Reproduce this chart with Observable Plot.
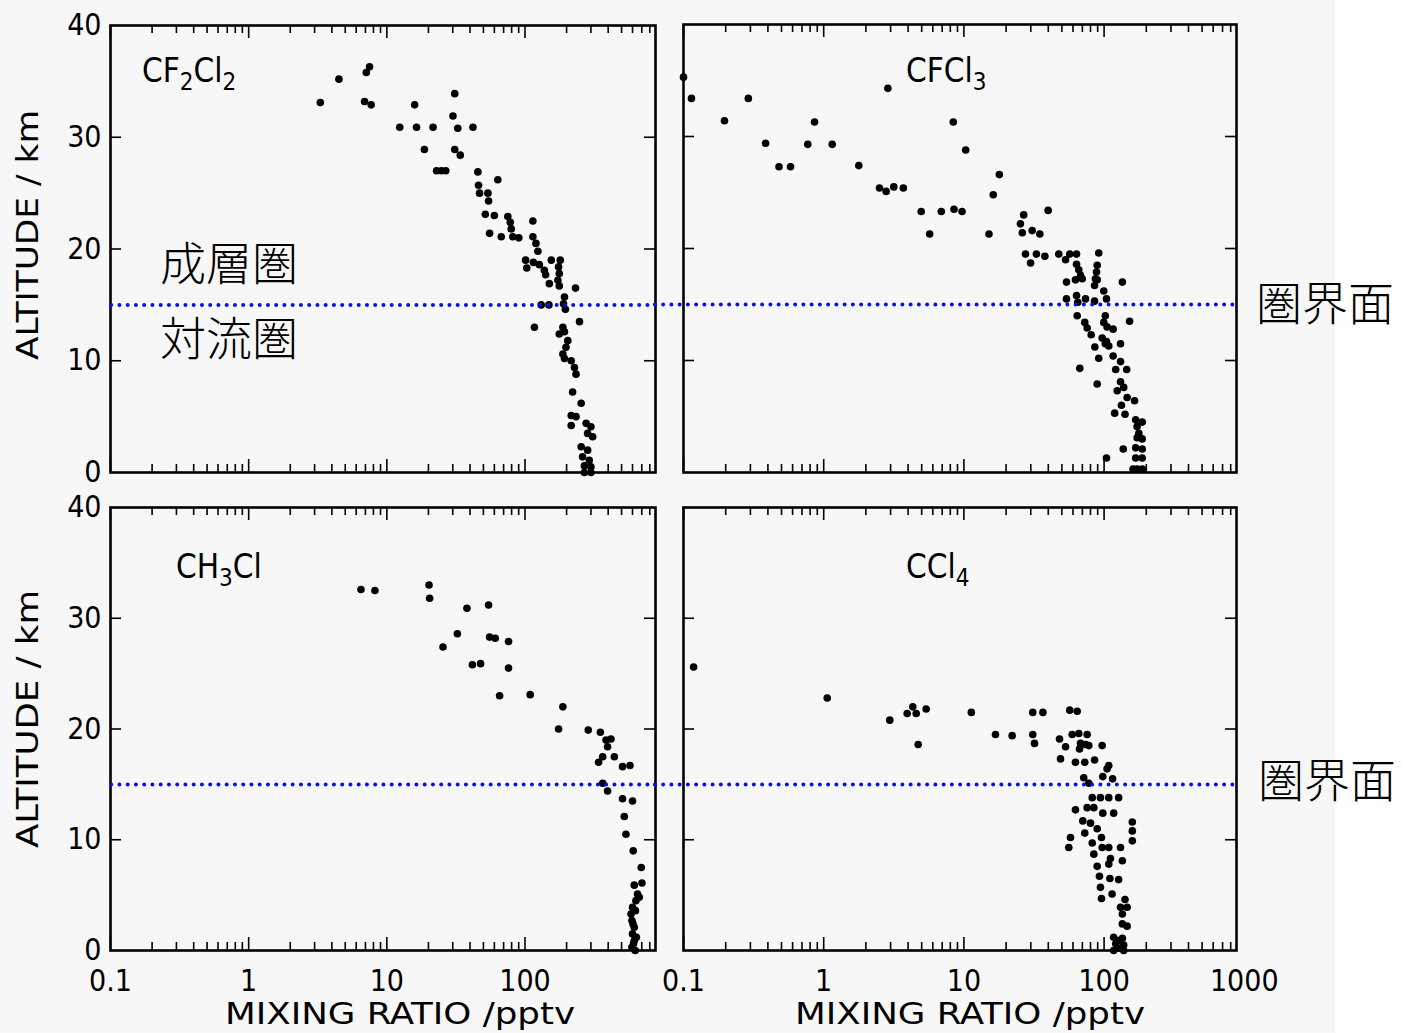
<!DOCTYPE html>
<html><head><meta charset="utf-8">
<script src="https://cdn.jsdelivr.net/npm/d3@7"></script>
<script src="https://cdn.jsdelivr.net/npm/@observablehq/plot@0.6"></script>
<style>
body{margin:0;background:#fff;}
#root{position:relative;width:1402px;height:1033px;overflow:hidden;background:#fff;}
#bg{position:absolute;left:0;top:0;width:1335px;height:1033px;background:#f7f7f7;}
.panel{position:absolute;}
.panel svg{overflow:visible;display:block;}
#overlay{position:absolute;left:0;top:0;}
</style></head><body><div id="root"><div id="bg"></div></div>
<script>
// [mixing ratio (pptv), altitude (km)]
const cf2cl2 = [[3.3,33.1],[4.5,35.2],[7.1,35.8],[7.5,36.3],[6.9,33.2],[7.7,32.9],[15.9,32.9],[31,33.9],[12.4,30.9],[16.4,30.9],[21.6,30.9],[30.1,31.9],[32.6,30.8],[42,30.9],[18.7,28.9],[31,28.9],[34,28.4],[22.9,27],[24.8,27],[26.7,27],[45.6,26.9],[63.6,26.2],[46.1,25.7],[46.9,25],[53.9,25],[54.5,24.3],[51.6,23.1],[60,23],[55.4,21.4],[67.3,21.1],[75.1,22.9],[78.2,22.4],[79.5,21.8],[81.6,21.1],[90.2,21],[114,22.5],[114,21.1],[120,20.5],[124,19.8],[101,19],[103,18.3],[115,18.8],[127,18.6],[138,18.1],[141,17.7],[155,19],[180,19],[175,18.4],[177,17.8],[173,17.2],[150,16.9],[177,16.7],[232,16.5],[193,15.7],[190,15.1],[131,15],[149,15],[196,14.6],[248,13.5],[117,13],[188,13],[177,12.4],[193,12.6],[204,11.8],[198,11.2],[188,10.6],[193,10.2],[216,10],[228,9.4],[234,8.8],[221,7.2],[255,6.2],[216,5.1],[216,4.2],[234,5],[277,4.4],[300,4.1],[284,3.5],[309,3.2],[255,2.3],[284,2],[261,1.4],[292,1.1],[269,0.6],[300,0.5],[269,0],[300,0]];
const cfcl3 = [[0.1,35.3],[0.114,33.4],[0.29,33.4],[0.196,31.4],[0.385,29.4],[0.48,27.3],[0.58,27.3],[0.77,29.3],[0.86,31.3],[1.15,29.3],[1.78,27.4],[2.5,25.4],[2.79,25.1],[3.16,25.5],[3.7,25.4],[2.87,34.3],[4.96,23.3],[5.7,21.3],[6.9,23.3],[8.5,23.5],[9.7,23.3],[8.4,31.3],[10.3,28.8],[15.1,21.3],[16.2,24.8],[17.9,26.6],[26.7,23],[25.3,22.2],[26.1,21.4],[30.7,21.6],[34.8,21.3],[39.9,23.4],[27.5,19.5],[29.9,18.7],[32.9,19.5],[37.8,19.3],[47.5,19.5],[53.1,19],[56.9,19.5],[63.6,19.5],[63.6,18.6],[66,18.1],[67.9,17.6],[69.8,17.3],[62.5,17.2],[53.9,17],[91.6,19.6],[89.3,18.5],[88.3,17.9],[86.8,17.3],[85.5,16.7],[89.3,17.2],[135,17],[99.5,16.2],[104,15.5],[53.9,15.5],[63.6,15.8],[64.9,15.2],[73.7,15.5],[85.5,15.3],[64.3,14],[102,14],[99.5,13.4],[105,13],[116,12.8],[72.8,13.4],[75.7,12.9],[80.9,12.3],[152,13.5],[85.9,11.2],[96.9,12],[104,11.7],[108,11.3],[102,11.5],[131,11.5],[91.6,10.2],[116,10.4],[67.1,9.3],[131,9.9],[121,9.2],[145,9.2],[89.3,7.9],[131,8.1],[124,7.3],[138,7.6],[146,6.7],[165,6.4],[133,6],[119,5.3],[141,5.2],[168,4.7],[172,4.1],[187,4.5],[177,3.5],[187,3],[172,3.1],[168,2.2],[187,2.1],[137,2.1],[168,1.3],[187,1.3],[104,1.3],[161,0.3],[172,0.3],[187,0.3]];
const ch3cl = [[6.5,32.6],[8.2,32.5],[20.2,33],[20.4,31.8],[38,30.9],[54.5,31.2],[32.4,28.6],[25.5,27.4],[55.4,28.3],[60.9,28.2],[76,27.9],[41.6,25.8],[47.7,25.9],[76,25.5],[65.5,23],[109,23.1],[188,22],[175,20],[287,19.9],[351,19.7],[386,19],[419,19.1],[396,18.4],[365,17.5],[341,17],[443,17.5],[508,16.6],[575,16.7],[365,15.1],[396,14.4],[508,13.7],[600,13.5],[523,12.1],[538,10.5],[607,9],[694,7.5],[702,6.1],[618,5.9],[652,5.1],[671,4.8],[635,4.5],[600,3.9],[585,3.3],[594,2.7],[618,2.1],[600,1.5],[618,0.9],[594,0.3],[628,0],[610,0.6],[640,1.2],[605,2.4],[630,3.6]];
const ccl4 = [[0.118,25.6],[1.06,22.8],[2.96,20.8],[3.94,21.4],[4.32,22],[4.57,21.4],[5.38,21.8],[4.72,18.6],[11.3,21.5],[16.8,19.5],[22.1,19.4],[31,21.5],[36.6,21.5],[31,19.5],[31.9,18.7],[56.9,21.7],[64.3,21.6],[48.1,19.1],[53.1,18.4],[48.9,17.3],[59.2,19.5],[66,19.6],[75.7,19.5],[67.9,18.7],[73.7,18.6],[77.8,18.5],[66.8,18.2],[96.9,18.5],[62.5,17],[72.8,17],[85.5,17.2],[108,16.7],[105,16.4],[71.6,15.6],[77.8,15.1],[97.9,15.7],[115,15.5],[82.3,13.8],[94.2,13.8],[108,13.8],[127,13.8],[62.5,12.7],[75.7,12.9],[84.5,12.9],[97.9,12.4],[117,12.4],[70.5,11.7],[80,11.5],[57.6,10.2],[56,9.3],[72.8,10.6],[89.3,11],[95.8,10.2],[82.3,9.7],[84.5,8.7],[96.9,9.3],[108,9.3],[131,9.3],[159,11.6],[159,10.8],[159,9.9],[89.3,7.6],[108,7.8],[111,8.3],[135,8.1],[92.7,6.7],[110,6.5],[127,6.4],[94.2,5.7],[95.8,4.7],[114,5.1],[141,4.6],[131,3.9],[146,3.9],[135,3.3],[135,2.4],[146,2.2],[117,1.2],[127,0.9],[135,1.1],[121,0.6],[138,0.5],[127,0.2],[117,0],[138,0]];

const xTickLabelsLeft = [0.1, 1, 10, 100];
const xTickLabelsRight = [0.1, 1, 10, 100, 1000];
const yTickLabels = [0, 10, 20, 30, 40];
const yInnerTicks = [10, 20, 30];
const decades = [0.1, 1, 10, 100];
const tropopause = 15;

const XMAX = 880;
const minors = decades.flatMap(d => [2,3,4,5,6,7,8,9].map(k => d * k)).filter(v => v < XMAX);
const FONT = "'DejaVu Sans Condensed','DejaVu Sans',sans-serif";

function panel({data, left, top, width, height, mt, mb, ml, mr, xLabels, ruleX1}) {
  const iw = width - ml - mr, ih = height - mt - mb;
  const tk = {stroke: "black", strokeWidth: 1.6};
  const marks = [
    Plot.dot(data, {x: d => d[0], y: d => d[1], r: 3.8, fill: "black", stroke: null}),
    Plot.tickX(decades, {x: d => d, insetTop: ih - 13, ...tk}),
    Plot.tickX(decades, {x: d => d, insetBottom: ih - 13, ...tk}),
    Plot.tickX(minors, {x: d => d, insetTop: ih - 8, ...tk}),
    Plot.tickX(minors, {x: d => d, insetBottom: ih - 8, ...tk}),
    Plot.tickY(yInnerTicks, {y: d => d, insetRight: iw - 11, ...tk}),
    Plot.tickY(yInnerTicks, {y: d => d, insetLeft: iw - 11, ...tk}),
    Plot.frame({stroke: "black", strokeWidth: 2.6}),
    Plot.ruleY([tropopause], {y: d => d, x1: () => ruleX1, x2: () => XMAX, stroke: "#0b0bf5", strokeWidth: 4, strokeDasharray: "0 8.25", strokeLinecap: "round"})
  ];
  if (xLabels) marks.push(Plot.axisX(xLabels, {anchor: "bottom", tickSize: 0, tickPadding: 19, fontSize: 30, label: null, tickFormat: d => String(d)}));
  if (ml > 60) marks.push(Plot.axisY(yTickLabels, {anchor: "left", tickSize: 0, tickPadding: 9, fontSize: 30, label: null}));
  const p = Plot.plot({
    width, height, marginTop: mt, marginBottom: mb, marginLeft: ml, marginRight: mr,
    style: {background: "transparent", overflow: "visible", maxWidth: "none", fontFamily: FONT, fontWeight: 300, color: "black"},
    x: {type: "log", domain: [0.1, XMAX], axis: null},
    y: {domain: [0, 40], axis: null},
    marks
  });
  const div = document.createElement("div");
  div.className = "panel";
  div.style.left = left + "px"; div.style.top = top + "px";
  div.style.width = width + "px"; div.style.height = height + "px";
  div.appendChild(p);
  document.getElementById("root").appendChild(div);
}

panel({data: cf2cl2, left: 0, top: 0, width: 670, height: 500, mt: 25, mb: 28, ml: 110, mr: 15, xLabels: null, ruleX1: 0.102});
panel({data: cfcl3, left: 640, top: 0, width: 660, height: 500, mt: 24, mb: 28, ml: 43, mr: 64, xLabels: null, ruleX1: 0.063});
panel({data: ch3cl, left: 0, top: 490, width: 670, height: 543, mt: 17, mb: 83, ml: 110, mr: 15, xLabels: xTickLabelsLeft, ruleX1: 0.102});
panel({data: ccl4, left: 640, top: 490, width: 660, height: 543, mt: 17, mb: 83, ml: 43, mr: 64, xLabels: xTickLabelsRight, ruleX1: 0.063});

// text overlay
const ns = "http://www.w3.org/2000/svg";
const ov = document.createElementNS(ns, "svg");
ov.setAttribute("id", "overlay"); ov.setAttribute("width", 1402); ov.setAttribute("height", 1033);
ov.innerHTML = `
<g font-family="${FONT.replace(/'/g, '&quot;')}" font-weight="300" fill="black">
  <text x="142" y="82" font-size="33">CF<tspan font-size="24" dy="8">2</tspan><tspan dy="-8">Cl</tspan><tspan font-size="24" dy="8">2</tspan></text>
  <text x="906" y="82" font-size="33">CFCl<tspan font-size="24" dy="8">3</tspan></text>
  <text x="176" y="578" font-size="33">CH<tspan font-size="24" dy="8">3</tspan><tspan dy="-8">Cl</tspan></text>
  <text x="906" y="578" font-size="33">CCl<tspan font-size="24" dy="8">4</tspan></text>
  <text x="400" y="1024" font-size="31" text-anchor="middle" textLength="350" lengthAdjust="spacingAndGlyphs">MIXING  RATIO /pptv</text>
  <text x="970" y="1024" font-size="31" text-anchor="middle" textLength="350" lengthAdjust="spacingAndGlyphs">MIXING  RATIO /pptv</text>
  <text transform="translate(38,235) rotate(-90)" font-size="30" text-anchor="middle" textLength="250" lengthAdjust="spacingAndGlyphs">ALTITUDE / km</text>
  <text transform="translate(38,719) rotate(-90)" font-size="30" text-anchor="middle" textLength="258" lengthAdjust="spacingAndGlyphs">ALTITUDE / km</text>
</g>
<g font-family="'Noto Sans CJK JP',sans-serif" font-size="46" font-weight="300" fill="black">
  <text x="160" y="280">成層圏</text>
  <text x="160" y="355">対流圏</text>
  <text x="1256" y="320">圏界面</text>
  <text x="1258" y="797">圏界面</text>
</g>`;
document.getElementById("root").appendChild(ov);
</script>
</body></html>
